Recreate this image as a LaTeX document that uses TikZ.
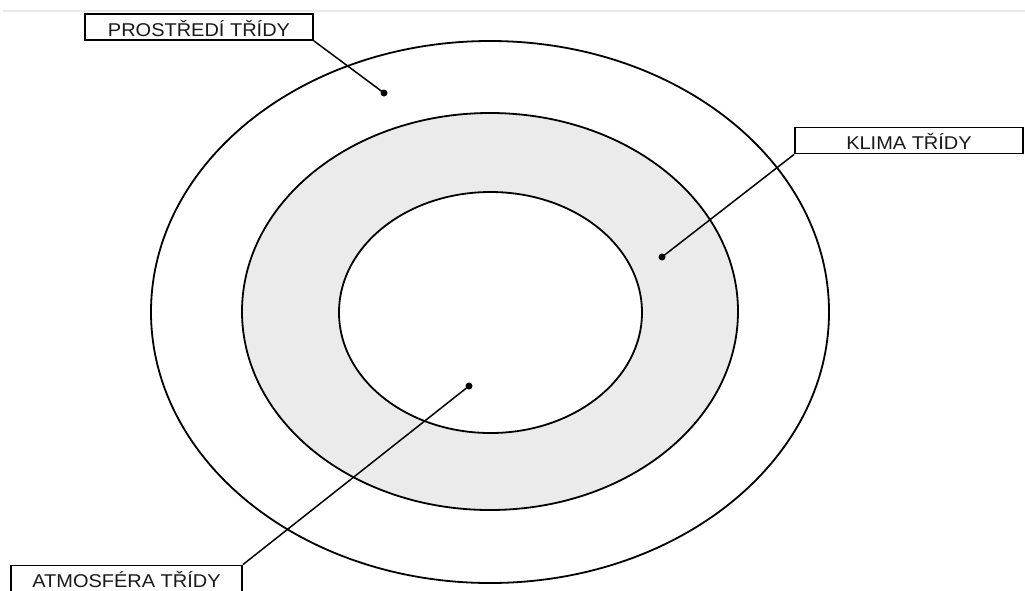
\documentclass[tikz,border=0pt]{standalone}
\usepackage{fontspec}
\setmainfont{Liberation Sans}
\definecolor{ringfill}{RGB}{235,235,235}
\definecolor{rulegray}{RGB}{232,232,232}
\definecolor{inkgray}{RGB}{25,25,25}
\begin{document}
\begin{tikzpicture}[x=1pt,y=-1pt,
  ring/.style={draw=black,line width=1.8pt},
  tag/.style={draw=black,line width=1.8pt,fill=white,minimum width=228pt,
    minimum height=26pt,inner sep=0pt,text height=18pt,text depth=0pt,
    text=inkgray,font=\fontsize{18.5}{20}\selectfont},
  pin/.style={circle,fill=black,inner sep=0pt,minimum size=7pt},
  leader/.style={draw=black,line width=1.5pt}]
\useasboundingbox (0,0) rectangle (1025,590);
\clip (0,0) rectangle (1025,590);
% thin rule along the top edge
\draw[rulegray,line width=1.2pt] (3,11) -- (1025,11);
% three nested ellipses
\draw[ring] (490,312) ellipse [x radius=339, y radius=271];
\draw[ring,fill=ringfill] (490,311.5) ellipse [x radius=248, y radius=198.5];
\draw[ring,fill=white] (490.5,312.5) ellipse [x radius=151.5, y radius=120.5];
% labels
\node[tag] (prostredi) at (199,27) {\scalebox{1.08}[1]{PROSTŘEDÍ TŘÍDY}};
\node[tag] (klima) at (909,140.5) {\scalebox{1.08}[1]{KLIMA TŘÍDY}};
\node[tag,minimum width=231pt] (atmosfera) at (126.5,578.5) {\scalebox{1.08}[1]{ATMOSFÉRA TŘÍDY}};
% pointer dots
\node[pin] (pOuter) at (384,93) {};
\node[pin] (pRing) at (662,257) {};
\node[pin] (pInner) at (469,386) {};
% leader lines
\draw[leader] (prostredi.south east) -- (pOuter.center);
\draw[leader] (klima.south west) -- (pRing.center);
\draw[leader] (atmosfera.north east) -- (pInner.center);
\end{tikzpicture}
\end{document}
